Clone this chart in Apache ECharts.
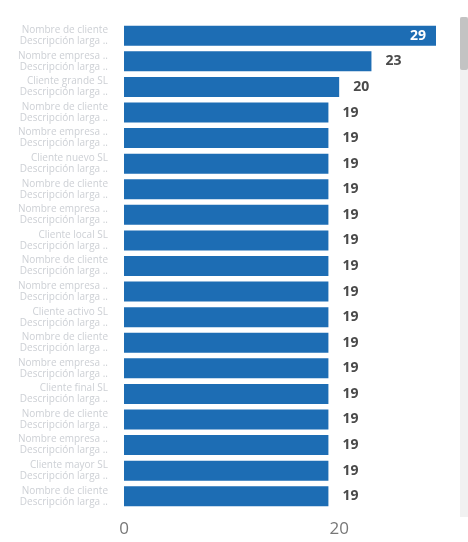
<!DOCTYPE html>
<html>
<head>
<meta charset="utf-8">
<script src="https://cdn.jsdelivr.net/npm/echarts@6/dist/echarts.min.js"></script>
<style>
html,body{margin:0;padding:0;background:#fff;}
#c{width:468px;height:542px;}
</style>
</head>
<body>
<div id="c"></div>
<script>
var categories = [
  "Nombre de cliente\nDescripción larga uno",
  "Nombre empresa SA\nDescripción larga dos",
  "Cliente grande SL\nDescripción larga tres",
  "Nombre de cliente\nDescripción larga cuatro",
  "Nombre empresa SA\nDescripción larga cinco",
  "Cliente nuevo SL\nDescripción larga seis",
  "Nombre de cliente\nDescripción larga siete",
  "Nombre empresa SA\nDescripción larga ocho",
  "Cliente local SL\nDescripción larga nueve",
  "Nombre de cliente\nDescripción larga diez",
  "Nombre empresa SA\nDescripción larga once",
  "Cliente activo SL\nDescripción larga doce",
  "Nombre de cliente\nDescripción larga trece",
  "Nombre empresa SA\nDescripción larga catorce",
  "Cliente final SL\nDescripción larga quince",
  "Nombre de cliente\nDescripción larga dieciséis",
  "Nombre empresa SA\nDescripción larga diecisiete",
  "Cliente mayor SL\nDescripción larga dieciocho",
  "Nombre de cliente\nDescripción larga diecinueve"
];
var values = [29, 23, 20, 19, 19, 19, 19, 19, 19, 19, 19, 19, 19, 19, 19, 19, 19, 19, 19];
var insideLabelIndex = 0;

var chart = echarts.init(document.getElementById('c'), null, {renderer: 'canvas'});
var seriesData = values.map(function (v, i) {
  if (i === insideLabelIndex) {
    return {value: v, label: {position: 'insideRight', distance: 10, color: '#ffffff'}};
  }
  return v;
});
chart.setOption({
  animation: false,
  grid: {left: 124, right: 32, top: 23, bottom: 33, containLabel: false},
  xAxis: {
    type: 'value',
    min: 0,
    max: 29,
    interval: 20,
    axisLine: {show: false},
    axisTick: {show: false},
    splitLine: {show: false},
    axisLabel: {color: '#777', fontSize: 17, margin: 12, fontFamily: 'Open Sans', showMaxLabel: false}
  },
  yAxis: {
    type: 'category',
    inverse: true,
    data: categories,
    axisLine: {show: false},
    axisTick: {show: false},
    axisLabel: {
      interval: 0,
      color: '#cdd0d5',
      fontSize: 10,
      lineHeight: 11,
      margin: 16,
      width: 92,
      overflow: 'truncate',
      ellipsis: '..',
      fontFamily: 'Open Sans'
    }
  },
  series: [{
    type: 'bar',
    data: seriesData,
    barWidth: 20,
    itemStyle: {color: '#1d6db4'},
    label: {
      show: true,
      position: 'right',
      distance: 14,
      color: '#4a4a4a',
      fontSize: 14,
      fontWeight: 'bold',
      fontFamily: 'Open Sans'
    }
  }],
  graphic: [
    {type: 'rect', left: 460, top: 17, shape: {width: 8, height: 500}, style: {fill: '#f1f1f1'}, silent: true},
    {type: 'rect', left: 460, top: 17, shape: {width: 8, height: 53, r: 2}, style: {fill: '#c3c3c3'}, silent: true}
  ]
});
</script>
</body>
</html>
